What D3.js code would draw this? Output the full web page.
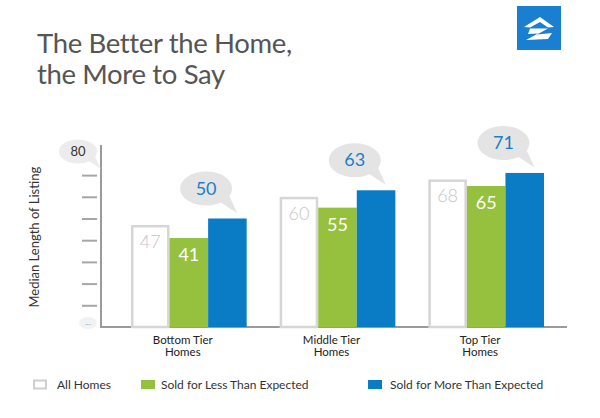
<!DOCTYPE html>
<html><head><meta charset="utf-8">
<script src="https://cdn.jsdelivr.net/npm/d3@7"></script>
<style>body{margin:0;background:#fff}svg{display:block}text{font-family:Lato,"Open Sans",sans-serif}</style>
</head><body>
<svg id="c" width="600" height="418"></svg>
<script>
const titleLines = ["The Better the Home,", "the More to Say"];
const categories = ["Bottom Tier Homes", "Middle Tier Homes", "Top Tier Homes"];
const categoryLines = [["Bottom Tier", "Homes"], ["Middle Tier", "Homes"], ["Top Tier", "Homes"]];
const seriesNames = ["All Homes", "Sold for Less Than Expected", "Sold for More Than Expected"];
const allHomes = [47, 60, 68];
const soldLess = [41, 55, 65];
const soldMore = [50, 63, 71];
const yTicks = [10, 20, 30, 40, 50, 60, 70];
const yMax = 80;
const yTitle = "Median Length of Listing";

const colors = {all: "#ffffff", less: "#96c13e", more: "#0a7cc6"};
const svg = d3.select("#c");

// title
svg.selectAll("text.title").data(titleLines).join("text").attr("class", "title")
  .attr("fill", "#555").attr("font-size", 27.5).attr("letter-spacing", -0.35).attr("font-family", "'Open Sans',sans-serif")
  .attr("x", 37).attr("y", (d, i) => 53 + i * 30.5).text(d => d);

// logo
svg.append("rect").attr("x", 517).attr("y", 6).attr("width", 44).attr("height", 44).attr("fill", "#1a7fd0");
svg.append("path").attr("fill", "#fff")
  .attr("d", "M524,27 L540,17 L554,27 L548,27.5 L540,22 L530,27.5 Z M530,28.5 L548,28.5 L537,34.5 L552,33 L548,39 L526,40 L538,33.5 L528,34 Z");

const x0 = d3.scaleBand().domain(categories).range([131, 544]).paddingInner(0.222).paddingOuter(0);
const x1 = d3.scaleBand().domain(seriesNames).range([0, x0.bandwidth()]).padding(0);
const y = d3.scaleLinear().domain([0, yMax]).range([327, 153.4]);

// y ticks
const yAxis = d3.axisLeft(y).tickValues(yTicks).tickSize(15).tickFormat("");
const gy = svg.append("g").attr("transform", "translate(97,0)").call(yAxis);
gy.select(".domain").remove();
gy.selectAll(".tick line").attr("stroke", "#a6a6a6").attr("stroke-width", 2);

// axis lines
svg.append("line").attr("x1", 101).attr("x2", 101).attr("y1", 145).attr("y2", 327).attr("stroke", "#9a9a9a").attr("stroke-width", 2);
svg.append("line").attr("x1", 100).attr("x2", 567).attr("y1", 327).attr("y2", 327).attr("stroke", "#9a9a9a").attr("stroke-width", 2);

function bubble(g, cx, cy, rx, ry, fill, tail) {
  g.append("ellipse").attr("cx", cx).attr("cy", cy).attr("rx", rx).attr("ry", ry).attr("fill", fill);
  if (tail) g.append("path").attr("fill", fill)
    .attr("d", `M${cx + rx * 0.45},${cy + ry * 0.7} L${cx + rx * 1.2},${cy + ry * 1.45} L${cx + rx * 0.85},${cy + ry * 0.3} Z`);
}
const topB = svg.append("g");
bubble(topB, 78, y(yMax) - 2, 19, 12, "#ececec", true);
topB.append("text").attr("x", 78).attr("y", y(yMax) + 2.5).attr("text-anchor", "middle").attr("font-size", 13).attr("fill", "#333").text(yMax);
const botB = svg.append("g");
bubble(botB, 88, y(0) - 4, 9, 6, "#f2f2f2", false);
botB.append("text").attr("x", 88).attr("y", y(0) - 2).attr("text-anchor", "middle").attr("font-size", 8).attr("fill", "#999").text("...");

// y title
svg.append("text").attr("transform", `translate(39,${(y(0) + y(yMax)) / 2 - 3}) rotate(-90)`)
  .attr("text-anchor", "middle").attr("font-size", 13).attr("fill", "#333").text(yTitle);

// bars
const rows = categories.map((c, i) => ({cat: c, vals: [
  {s: seriesNames[0], v: allHomes[i], k: "all"},
  {s: seriesNames[1], v: soldLess[i], k: "less"},
  {s: seriesNames[2], v: soldMore[i], k: "more"}]}));
const groups = svg.selectAll("g.grp").data(rows).join("g").attr("class", "grp")
  .attr("transform", d => `translate(${x0(d.cat)},0)`);

groups.each(function(r) {
  const g = d3.select(this);
  r.vals.forEach(d => {
    const bx = x1(d.s), bw = x1.bandwidth(), by = y(d.v);
    if (d.k === "all") {
      g.append("rect").attr("x", bx + 1.25).attr("y", by + 1.25).attr("width", bw - 2.5).attr("height", y(0) - by - 1.25)
        .attr("fill", "#fff").attr("stroke", "#d6d6d6").attr("stroke-width", 2.5);
      g.append("text").attr("x", bx + bw / 2).attr("y", by + 23).attr("text-anchor", "middle")
        .attr("font-size", 18).attr("font-weight", 300).attr("fill", "#c4c4c4").text(d.v);
    } else if (d.k === "less") {
      g.append("rect").attr("x", bx).attr("y", by).attr("width", bw).attr("height", y(0) - by).attr("fill", colors.less);
      g.append("text").attr("x", bx + bw / 2).attr("y", by + 23).attr("text-anchor", "middle")
        .attr("font-size", 18).attr("fill", "#fff").text(d.v);
    } else {
      g.append("rect").attr("x", bx).attr("y", by).attr("width", bw).attr("height", y(0) - by).attr("fill", colors.more);
      const cx = bx - 2, cy = by - 30;
      bubble(g, cx, cy, 26, 17, "#e4e4e4", true);
      g.append("text").attr("x", cx).attr("y", cy + 6).attr("text-anchor", "middle")
        .attr("font-size", 18).attr("fill", "#1a7fc8").text(d.v);
    }
  });
});

// category labels (one text per line)
categories.forEach((c, i) => {
  categoryLines[i].forEach((line, j) => {
    svg.append("text").attr("class", "cat")
      .attr("x", x0(c) + x0.bandwidth() / 2 - 6).attr("y", 344 + j * 12)
      .attr("text-anchor", "middle").attr("font-size", 11.5).attr("fill", "#222").text(line);
  });
});

// legend
const legendX = [33, 141, 368];
const legendTextX = [57, 161, 390];
const lg = svg.append("g");
seriesNames.forEach((s, i) => {
  const k = ["all", "less", "more"][i];
  if (k === "all") lg.append("rect").attr("x", legendX[i] + 1).attr("y", 380.5).attr("width", 12).attr("height", 8)
    .attr("fill", "#fff").attr("stroke", "#cfcfcf").attr("stroke-width", 2);
  else lg.append("rect").attr("x", legendX[i]).attr("y", 380).attr("width", 14).attr("height", 9).attr("fill", colors[k]);
  lg.append("text").attr("x", legendTextX[i]).attr("y", 389).attr("font-size", 12).attr("fill", "#333").text(s);
});
</script>
</body></html>
